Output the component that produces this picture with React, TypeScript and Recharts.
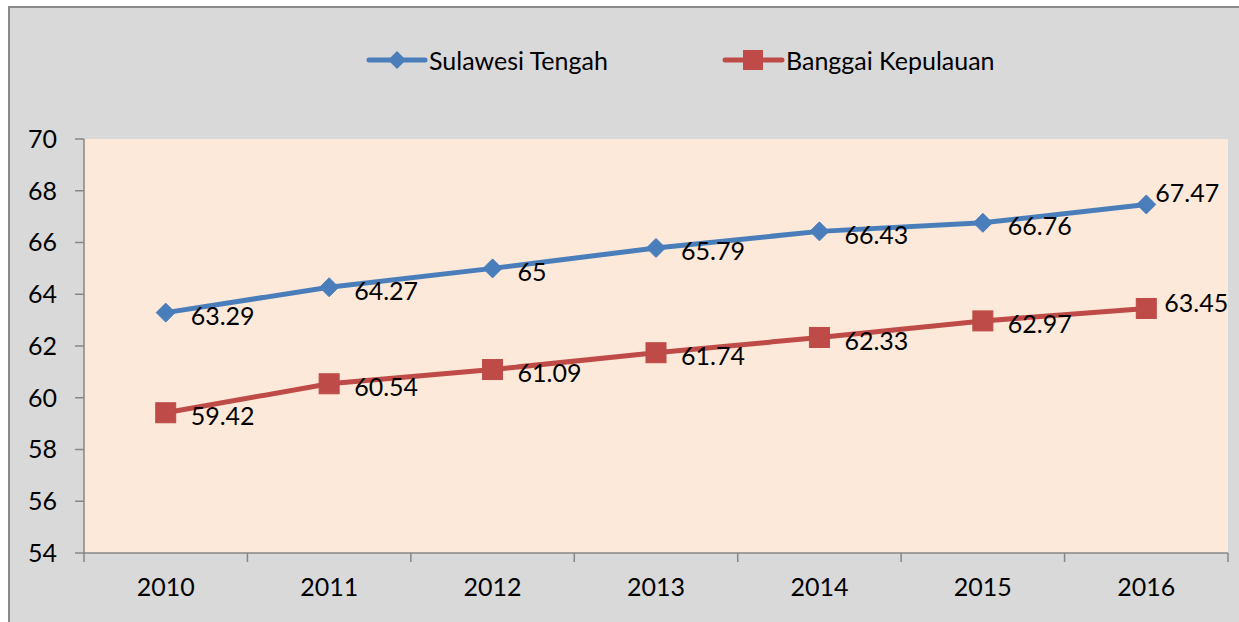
import React from 'react';
import { LineChart, Line, XAxis, YAxis, CartesianGrid } from 'recharts';

const YEARS = ['2010', '2011', '2012', '2013', '2014', '2015', '2016'];
const SULAWESI_TENGAH = [63.29, 64.27, 65, 65.79, 66.43, 66.76, 67.47];
const BANGGAI_KEPULAUAN = [59.42, 60.54, 61.09, 61.74, 62.33, 62.97, 63.45];
const Y_TICKS = [54, 56, 58, 60, 62, 64, 66, 68, 70];
const SERIES_NAMES = ['Sulawesi Tengah', 'Banggai Kepulauan'];

const data = YEARS.map((y, i) => ({
  year: y,
  st: SULAWESI_TENGAH[i],
  bk: BANGGAI_KEPULAUAN[i],
}));

const FONT = 'Lato, "Open Sans", sans-serif';
const FS = 25;
const BLUE = '#4A7EBB';
const RED = '#BE4B48';
const AXIS = '#868686';

const W = 1229;
const H = 614;
const MARGIN = { top: 131, right: 11, bottom: 9, left: 0 };
const YAXIS_W = 74;
const XAXIS_H = 60;
const PLOT_W = W - MARGIN.left - MARGIN.right - YAXIS_W;

const Diamond = (props: any) => {
  const { cx, cy } = props;
  if (cx == null || cy == null) return null;
  const r = 9.5;
  return <path d={`M${cx},${cy - r}L${cx + r},${cy}L${cx},${cy + r}L${cx - r},${cy}Z`} fill={BLUE} stroke={BLUE} strokeWidth={1} />;
};

const Square = (props: any) => {
  const { cx, cy } = props;
  if (cx == null || cy == null) return null;
  const r = 10;
  return <rect x={cx - r} y={cy - r} width={2 * r} height={2 * r} fill={RED} stroke={RED} strokeWidth={1} />;
};

const makeLabel = (lastDx: number, lastDy: number) => (props: any) => {
  const { x, y, value, index } = props;
  const last = index === YEARS.length - 1;
  const dx = last ? lastDx : 25;
  const dy = last ? lastDy : 2.5;
  return (
    <text x={x + dx} y={y + dy} dominantBaseline="central" textAnchor="start" fontFamily={FONT} fontSize={FS} fill="#000">
      {value}
    </text>
  );
};

const XTick = (props: any) => {
  const { x, y, payload, index } = props;
  const bw = PLOT_W / YEARS.length;
  const last = index === YEARS.length - 1;
  return (
    <g>
      <line x1={x - bw / 2} x2={x - bw / 2} y1={y - 9} y2={y} stroke={AXIS} strokeWidth={1.5} />
      {last && <line x1={x + bw / 2} x2={x + bw / 2} y1={y - 9} y2={y} stroke={AXIS} strokeWidth={1.5} />}
      <text x={x} y={y + 34} textAnchor="middle" fontFamily={FONT} fontSize={FS} fill="#000">
        {payload.value}
      </text>
    </g>
  );
};

export default function App() {
  return (
    <div
      style={{
        position: 'fixed',
        left: 8,
        top: 6,
        width: W,
        height: H,
        background: '#D9D9D9',
        borderLeft: '2px solid #8A8A8A',
        borderTop: '2px solid #8A8A8A',
        overflow: 'hidden',
      }}
    >
      <LineChart width={W} height={H} data={data} margin={MARGIN}>
        <CartesianGrid horizontal={false} vertical={false} fill="#FDE9D9" stroke="none" />
        <XAxis
          dataKey="year"
          scale="band"
          height={XAXIS_H}
          axisLine={{ stroke: AXIS, strokeWidth: 1.5 }}
          tickLine={false}
          tickSize={9}
          tickMargin={0}
          tick={<XTick />}
          interval={0}
        />
        <YAxis
          domain={[54, 70]}
          ticks={Y_TICKS}
          width={YAXIS_W}
          axisLine={{ stroke: AXIS, strokeWidth: 1.5 }}
          tickLine={{ stroke: AXIS, strokeWidth: 1.5 }}
          tickSize={9}
          tickMargin={18}
          tick={{ fontFamily: FONT, fontSize: FS, fill: '#000' }}
          interval={0}
        />
        <Line
          dataKey="st"
          name={SERIES_NAMES[0]}
          stroke={BLUE}
          strokeWidth={5}
          dot={<Diamond />}
          activeDot={false}
          isAnimationActive={false}
          label={makeLabel(9, -12)}
        />
        <Line
          dataKey="bk"
          name={SERIES_NAMES[1]}
          stroke={RED}
          strokeWidth={5}
          dot={<Square />}
          activeDot={false}
          isAnimationActive={false}
          label={makeLabel(18, -6.5)}
        />
      </LineChart>
      <svg style={{ position: 'absolute', left: 0, top: 0 }} width={W} height={100}>
        <line x1={359} x2={415} y1={52} y2={52} stroke={BLUE} strokeWidth={5} strokeLinecap="round" />
        <path d="M387,43L396,52L387,61L378,52Z" fill={BLUE} />
        <text x={419} y={52} dominantBaseline="central" fontFamily={FONT} fontSize={FS} fill="#000">
          {SERIES_NAMES[0]}
        </text>
        <line x1={715} x2={772} y1={52} y2={52} stroke={RED} strokeWidth={5} strokeLinecap="round" />
        <rect x={733} y={42} width={20} height={20} fill={RED} />
        <text x={776} y={52} dominantBaseline="central" fontFamily={FONT} fontSize={FS} fill="#000">
          {SERIES_NAMES[1]}
        </text>
      </svg>
    </div>
  );
}
